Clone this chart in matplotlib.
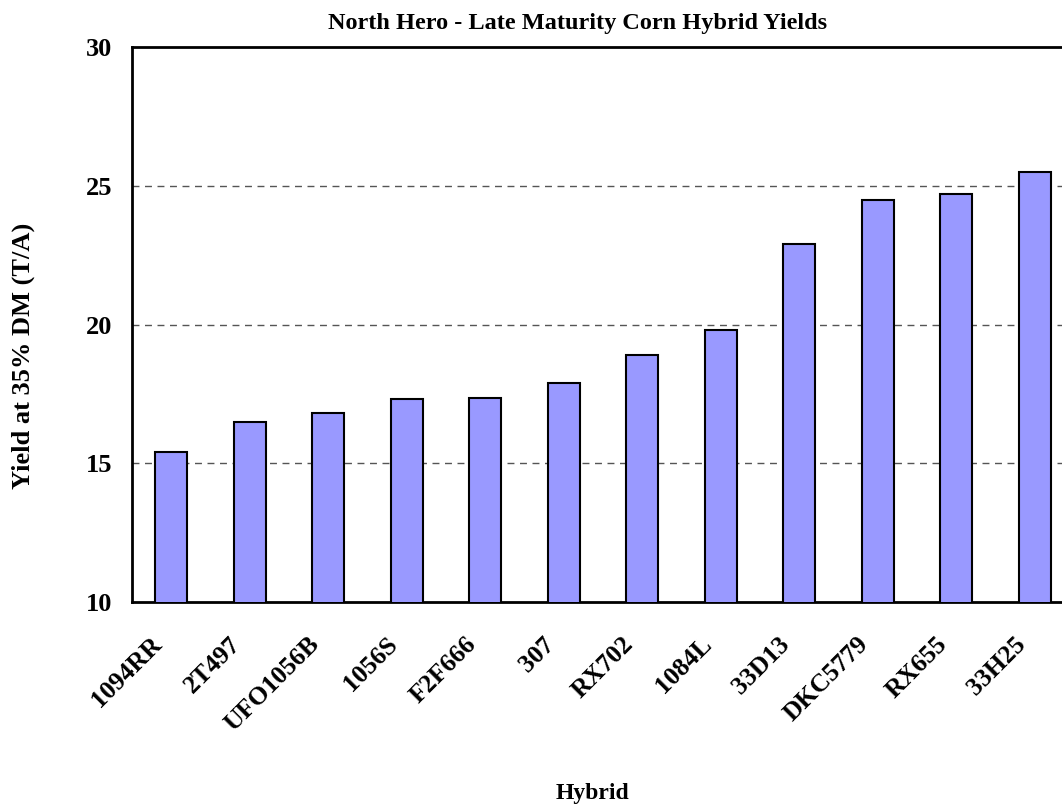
import matplotlib.pyplot as plt
import matplotlib.transforms as mtransforms
import numpy as np

hybrids = ['1094RR', '2T497', 'UFO1056B', '1056S', 'F2F666', '307',
           'RX702', '1084L', '33D13', 'DKC5779', 'RX655', '33H25']
yields = [15.4, 16.5, 16.8, 17.3, 17.35, 17.9, 18.9, 19.8, 22.9, 24.5, 24.7, 25.5]
y_ticks = [10, 15, 20, 25, 30]

plt.rcParams['font.family'] = ['Liberation Serif', 'DejaVu Serif']
plt.rcParams['font.weight'] = 'bold'

fig = plt.figure(figsize=(10.62, 8.08), dpi=100)
# axes runs past the right edge, the reference is cropped there
ax = fig.add_axes([132 / 1062, 1 - 602 / 808, 942 / 1062, 555 / 808])

x = np.arange(len(hybrids))
ax.bar(x, yields, width=0.41, color='#9999ff', edgecolor='black', linewidth=1.5, zorder=3)

ax.set_ylim(10, 30)
ax.set_xlim(-0.5, len(hybrids) - 0.5)
ax.set_yticks(y_ticks)
ax.set_yticklabels([str(t) for t in y_ticks], fontsize=19, fontweight='bold')
ax.set_xticks(x)
ax.set_xticklabels(hybrids, rotation=45, ha='right', va='top', rotation_mode='anchor',
                   fontsize=18.5, fontweight='bold')
ax.tick_params(axis='y', length=0, pad=14)
ax.tick_params(axis='x', length=0, pad=22)
shift = mtransforms.ScaledTranslation(-21 / 100, 0, fig.dpi_scale_trans)
for lbl in ax.get_xticklabels():
    lbl.set_transform(lbl.get_transform() + shift)

for t in [15, 20, 25]:
    ax.axhline(t, color='#555555', linestyle=(0, (5, 4)), linewidth=1, zorder=1)

for s in ['left', 'bottom', 'top']:
    ax.spines[s].set_linewidth(2)
ax.spines['right'].set_visible(False)

fig.text(578 / 1062, 1 - 23 / 808, 'North Hero - Late Maturity Corn Hybrid Yields',
         ha='center', va='center', fontsize=17.5, fontweight='bold')
fig.text(592 / 1062, 1 - 794 / 808, 'Hybrid', ha='center', va='center',
         fontsize=17, fontweight='bold')
fig.text(23 / 1062, 1 - 356 / 808, 'Yield at 35% DM (T/A)', ha='center', va='center',
         rotation=90, fontsize=19, fontweight='bold')

fig.savefig('out.png', dpi=100)
